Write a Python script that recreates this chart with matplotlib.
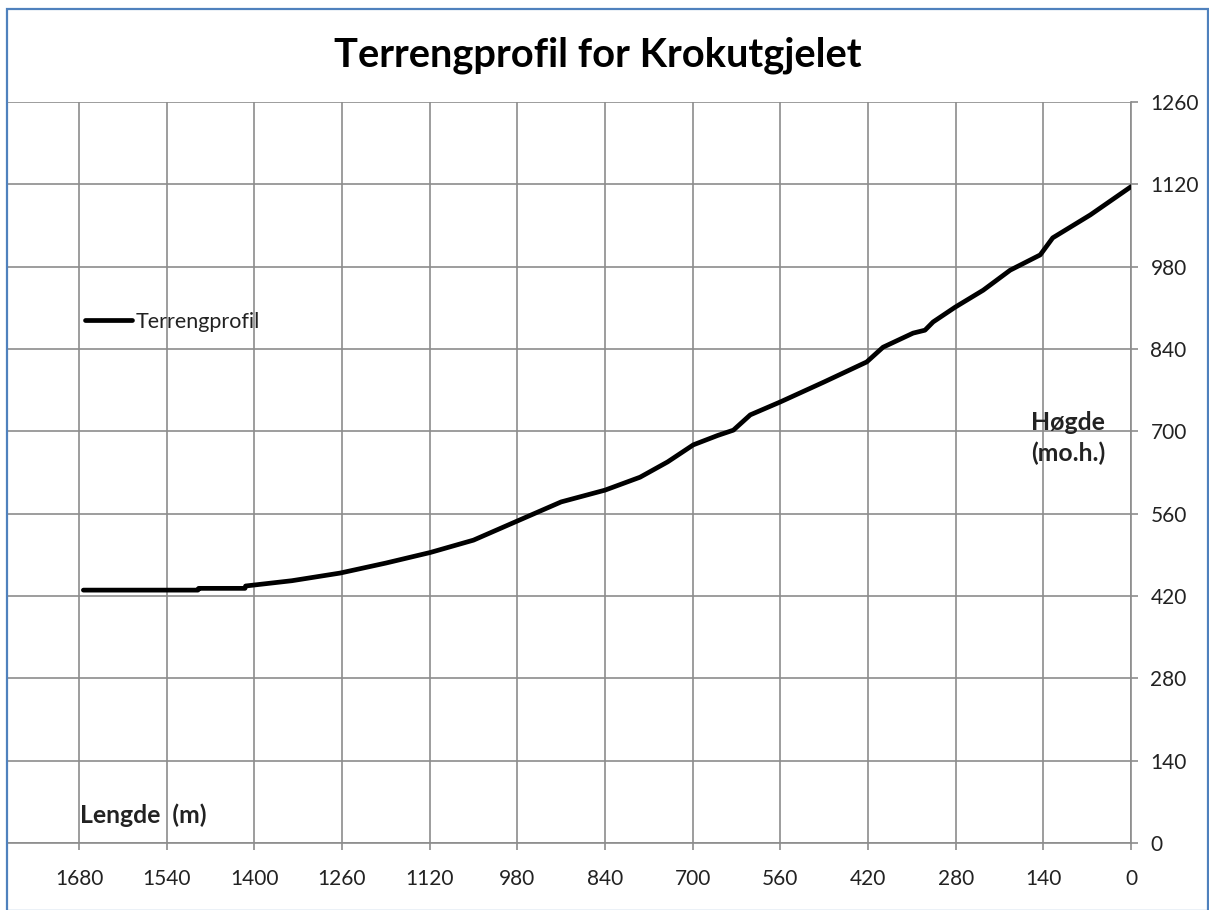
import matplotlib
matplotlib.use("Agg")
import matplotlib.pyplot as plt
from matplotlib.patches import Rectangle

# Data
lengde = [1673, 1490, 1489, 1415, 1414, 1340, 1263, 1190, 1119, 1050, 979, 910, 840, 784,
          740, 699, 660, 635, 608, 560, 490, 422, 396, 348, 329, 316, 281, 236, 193, 145,
          125, 65, 0]
hoegde = [430, 430, 433, 433, 437, 446, 459, 476, 494, 515, 548, 580, 600, 622,
          648, 677, 693, 702, 728, 750, 784, 818, 843, 867, 872, 886, 911, 940, 974, 1000,
          1029, 1068, 1116]
x_ticks = [1680, 1540, 1400, 1260, 1120, 980, 840, 700, 560, 420, 280, 140, 0]
y_ticks = [0, 140, 280, 420, 560, 700, 840, 980, 1120, 1260]

plt.rcParams['font.family'] = ['Lato', 'DejaVu Sans']

W, H = 1209, 910
fig = plt.figure(figsize=(W / 100, H / 100), dpi=100)
fig.patch.set_facecolor('white')

# plot area in pixel coordinates
left_px, right_px, top_px, bottom_px = 7, 1131, 102, 843
ax = fig.add_axes([left_px / W, 1 - bottom_px / H, (right_px - left_px) / W, (bottom_px - top_px) / H])

px_per_unit = (1131 - 79) / 1680.0
xmax = 1680 + (79 - left_px) / px_per_unit
ax.set_xlim(xmax, 0)
ax.set_ylim(0, 1260)

grid_c = '#8c8c8c'
ax.plot(lengde, hoegde, color='black', lw=3.4, solid_capstyle='round', zorder=3,
        label='Terrengprofil')

ax.set_xticks(x_ticks)
ax.set_yticks(y_ticks)
ax.grid(True, color=grid_c, lw=1.2)
ax.set_axisbelow(True)

for s in ['left', 'top']:
    ax.spines[s].set_visible(False)
for s in ['right', 'bottom']:
    ax.spines[s].set_color(grid_c)
    ax.spines[s].set_linewidth(1.2)

ax.yaxis.tick_right()
ax.tick_params(axis='both', colors=grid_c, length=5, width=1.2, labelcolor='#222222', labelsize=15)
ax.tick_params(axis='x', pad=14)
ax.tick_params(axis='y', pad=9)

# title
fig.text(598 / W, 1 - 55 / H, 'Terrengprofil for Krokutgjelet', ha='center', va='center',
         fontsize=28.7, fontweight='bold', color='black')

# axis labels placed inside
fig.text(80 / W, 1 - 815 / H, 'Lengde  (m)', ha='left', va='center', fontsize=17.8,
         fontweight='bold', color='#222222')
fig.text(1031 / W, 1 - 438 / H, 'Høgde\n(mo.h.)', ha='left', va='center', fontsize=17.8,
         fontweight='bold', color='#222222', linespacing=1.4)

# legend
leg = ax.legend(loc='upper left', bbox_to_anchor=((85 - left_px) / (right_px - left_px), 1 - (312 - top_px) / (bottom_px - top_px)),
                frameon=False, fontsize=15.5, handlelength=2.2, handletextpad=0.15,
                borderaxespad=0, borderpad=0)
for t in leg.get_texts():
    t.set_color('#222222')

# chart border
fig.patches.append(Rectangle((7 / W, 1 - 911 / H), (1208 - 7) / W, (911 - 9) / H,
                             transform=fig.transFigure, fill=False, edgecolor='#4f81bd',
                             lw=1.6, zorder=10))

fig.savefig('out.png', dpi=100)
